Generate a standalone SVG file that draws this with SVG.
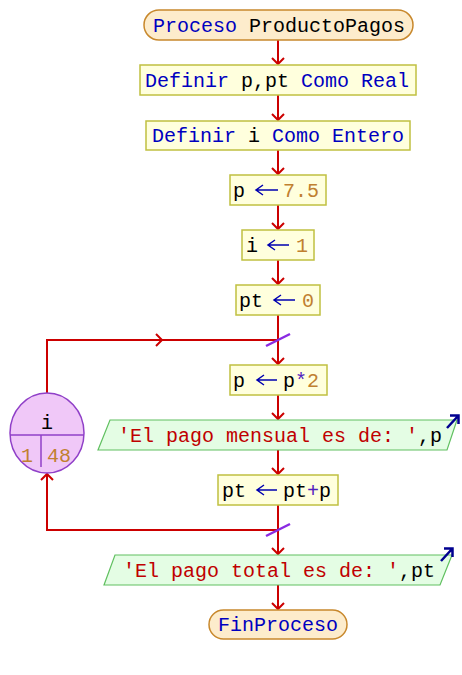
<svg xmlns="http://www.w3.org/2000/svg" width="462" height="675" viewBox="0 0 462 675">
<style>
text{font-family:"Liberation Mono","DejaVu Sans Mono",monospace;font-size:20px;fill:#000}
.kw{fill:#0000c0}.num{fill:#c08030}.str{fill:#c00000}.op{fill:#5020c0}
.term{fill:#fdeccc;stroke:#c8882c;stroke-width:1.5}
.box{fill:#ffffdd;stroke:#c0c040;stroke-width:1.5}
.io{fill:#e4fde4;stroke:#60c060;stroke-width:1.2}
.loop{fill:#f0c8f8;stroke:#9040c8;stroke-width:1.5}
.c{fill:none;stroke:#cc0000;stroke-width:2}
.asg{fill:none;stroke:#0000b0;stroke-width:1.5}
.sl{stroke:#8a2be2;stroke-width:2.5}
.out{fill:none;stroke:#000090;stroke-width:2.5}
</style>
<g id="connectors">
<path class="c" d="M278 40V64M272 58l6 6 6-6"/>
<path class="c" d="M278 95V120M272 114l6 6 6-6"/>
<path class="c" d="M278 150V174M272 168l6 6 6-6"/>
<path class="c" d="M278 205V229M272 223l6 6 6-6"/>
<path class="c" d="M278 260V284M272 278l6 6 6-6"/>
<path class="c" d="M278 315V364M272 358l6 6 6-6"/>
<path class="c" d="M278 395V419M272 413l6 6 6-6"/>
<path class="c" d="M278 450V474M272 468l6 6 6-6"/>
<path class="c" d="M278 505V554M272 548l6 6 6-6"/>
<path class="c" d="M278 585V609M272 603l6 6 6-6"/>
<path class="c" d="M47 393V340H278M156 334l6 6-6 6"/>
<path class="c" d="M278 530H47V474M41 480l6-6 6 6"/>
<line class="sl" x1="266" y1="346" x2="290" y2="334"/>
<line class="sl" x1="266" y1="536" x2="290" y2="524"/>
</g>
<g id="start">
<rect class="term" x="144" y="10" width="269" height="30" rx="15"/>
<text x="153" y="32"><tspan class="kw">Proceso</tspan> ProductoPagos</text>
</g>
<g id="def1">
<rect class="box" x="140" y="65" width="276" height="30"/>
<text x="145" y="87"><tspan class="kw">Definir</tspan> p,pt <tspan class="kw">Como Real</tspan></text>
</g>
<g id="def2">
<rect class="box" x="146" y="121" width="264" height="29"/>
<text x="152" y="142"><tspan class="kw">Definir</tspan> i <tspan class="kw">Como Entero</tspan></text>
</g>
<g id="asg_p">
<rect class="box" x="230" y="175" width="96" height="30"/>
<text x="233" y="197">p</text>
<path class="asg" d="M256 190H278M263 185l-7 5 7 5"/>
<text x="283" y="197" class="num">7.5</text>
</g>
<g id="asg_i">
<rect class="box" x="242" y="230" width="72" height="30"/>
<text x="246" y="252">i</text>
<path class="asg" d="M268 245H289M275 240l-7 5 7 5"/>
<text x="296" y="252" class="num">1</text>
</g>
<g id="asg_pt">
<rect class="box" x="236" y="285" width="84" height="30"/>
<text x="239" y="307">pt</text>
<path class="asg" d="M274 300H295M281 295l-7 5 7 5"/>
<text x="302" y="307" class="num">0</text>
</g>
<g id="loop_for">
<ellipse class="loop" cx="47" cy="433" rx="37" ry="40"/>
<path class="loop" d="M10 435H84M41 435V467" fill="none"/>
<text x="47" y="429" text-anchor="middle">i</text>
<text x="27" y="462" text-anchor="middle" class="num">1</text>
<text x="59" y="462" text-anchor="middle" class="num">48</text>
</g>
<g id="asg_p2">
<rect class="box" x="230" y="365" width="97" height="30"/>
<text x="233" y="387">p</text>
<path class="asg" d="M257 380H277M264 375l-7 5 7 5"/>
<text x="283" y="387">p<tspan class="op">*</tspan><tspan class="num">2</tspan></text>
</g>
<g id="out1">
<polygon class="io" points="110,420 457,420 447,450 98,450"/>
<text x="118" y="442"><tspan class="str">'El pago mensual es de: '</tspan>,p</text>
<path class="out" d="M447 428L458 416M450 415.5h8.5v8.5"/>
</g>
<g id="asg_pt2">
<rect class="box" x="218" y="475" width="120" height="30"/>
<text x="222" y="497">pt</text>
<path class="asg" d="M257 490H277M264 485l-7 5 7 5"/>
<text x="283" y="497">pt<tspan class="op">+</tspan>p</text>
</g>
<g id="out2">
<polygon class="io" points="115,555 452,555 440,585 104,585"/>
<text x="123" y="577"><tspan class="str">'El pago total es de: '</tspan>,pt</text>
<path class="out" d="M441 561L452 549M444 548.5h8.5v8.5"/>
</g>
<g id="end">
<rect class="term" x="209" y="610" width="138" height="29" rx="14.5"/>
<text x="218" y="631" class="kw">FinProceso</text>
</g>
</svg>
